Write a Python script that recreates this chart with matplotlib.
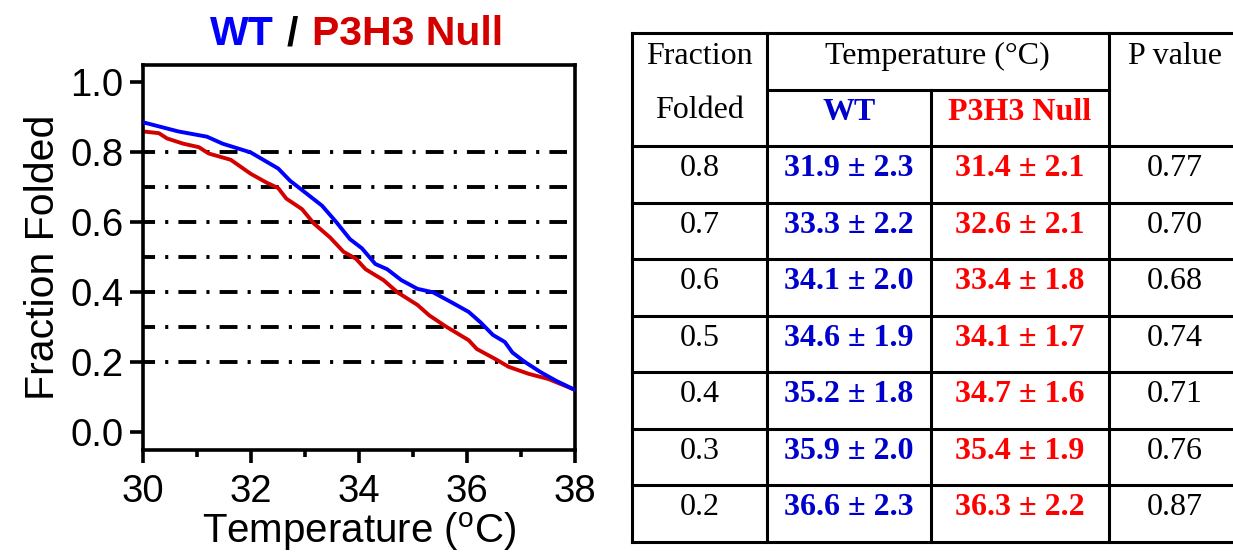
import matplotlib
matplotlib.use("Agg")
import matplotlib.pyplot as plt

plt.rcParams['font.family'] = ['Liberation Sans', 'DejaVu Sans']
plt.rcParams['mathtext.fontset'] = 'custom'
plt.rcParams['mathtext.rm'] = 'Liberation Sans'

# curve data
wt_temp = [30.0, 30.65, 31.18, 31.47, 31.99, 32.5, 32.72, 33.02, 33.31, 33.57, 33.83,
           34.05, 34.3, 34.52, 34.78, 35.08, 35.37, 35.74, 36.03, 36.25, 36.48, 36.7,
           36.84, 37.06, 37.36, 37.65, 38.0]
wt_frac = [0.886, 0.86, 0.845, 0.825, 0.8, 0.754, 0.719, 0.683, 0.648, 0.602, 0.552,
           0.526, 0.481, 0.466, 0.435, 0.41, 0.40, 0.369, 0.344, 0.314, 0.278, 0.258,
           0.228, 0.202, 0.172, 0.147, 0.121]
null_temp = [30.0, 30.29, 30.44, 30.74, 31.03, 31.21, 31.62, 31.99, 32.28, 32.5, 32.65,
             32.94, 33.16, 33.46, 33.71, 33.94, 34.12, 34.45, 34.71, 35.08, 35.3, 35.59,
             36.03, 36.18, 36.55, 36.77, 37.14, 37.51, 38.0]
null_frac = [0.86, 0.855, 0.84, 0.825, 0.815, 0.797, 0.779, 0.739, 0.714, 0.698, 0.668,
             0.638, 0.597, 0.557, 0.516, 0.496, 0.466, 0.435, 0.40, 0.364, 0.334, 0.304,
             0.263, 0.238, 0.207, 0.187, 0.167, 0.152, 0.121]
ref_levels = [0.8, 0.7, 0.6, 0.5, 0.4, 0.3, 0.2]

# table data
frac_labels = ['0.8', '0.7', '0.6', '0.5', '0.4', '0.3', '0.2']
wt_vals = ['31.9 ± 2.3', '33.3 ± 2.2', '34.1 ± 2.0', '34.6 ± 1.9', '35.2 ± 1.8', '35.9 ± 2.0', '36.6 ± 2.3']
null_vals = ['31.4 ± 2.1', '32.6 ± 2.1', '33.4 ± 1.8', '34.1 ± 1.7', '34.7 ± 1.6', '35.4 ± 1.9', '36.3 ± 2.2']
p_vals = ['0.77', '0.70', '0.68', '0.74', '0.71', '0.76', '0.87']

BLUE = '#0000FF'
RED = '#D40000'
TBLUE = '#0000CC'
TRED = '#FF0000'

W, H = 1233, 552
fig = plt.figure(figsize=(W / 100, H / 100), dpi=100)

# ---- left chart
ax = fig.add_axes([143.3 / W, 1 - 449.7 / H, (575 - 143.3) / W, (449.7 - 65) / H])
for lv in ref_levels:
    ax.plot([30, 37.85], [lv, lv], color='black', lw=2.8, ls=(1.5, (4.6, 2.6, 0.8, 2.6)), zorder=1)
ax.plot(null_temp, null_frac, color=RED, lw=2.8, zorder=2)
ax.plot(wt_temp, wt_frac, color=BLUE, lw=2.8, zorder=3)
ax.set_xlim(30, 38)
ax.set_ylim(-0.05, 1.05)
ax.set_xticks([30, 32, 34, 36, 38])
ax.set_xticks([31, 33, 35, 37], minor=True)
ax.set_yticks([0.0, 0.2, 0.4, 0.6, 0.8, 1.0])
ax.set_yticklabels(['0.0', '0.2', '0.4', '0.6', '0.8', '1.0'])
for s in ax.spines.values():
    s.set_linewidth(2.6)
ax.tick_params(which='major', length=9.5, width=2.6, labelsize=27.5, pad=5)
ax.tick_params(which='minor', length=5, width=2.6)
ax.tick_params(axis='x', pad=8)
ax.set_xlabel('Temperature ($^{\\rm o}$C)', fontsize=29, labelpad=0)
ax.set_ylabel('Fraction Folded', fontsize=29.5, labelpad=6)

# title in two colours
ty = 1 - 45 / H
fig.text(210 / W, ty, 'WT', color=BLUE, fontsize=29.5, fontweight='bold', va='baseline')
fig.text(287 / W, ty, '/', color='black', fontsize=29.5, fontweight='bold', va='baseline')
fig.text(312 / W, ty, 'P3H3 Null', color=RED, fontsize=29.5, fontweight='bold', va='baseline')

# ---- table
tx = fig.add_axes([0, 0, 1, 1])
tx.set_xlim(0, W)
tx.set_ylim(H, 0)
tx.axis('off')

cols = [632, 766.6, 930.8, 1108.7, 1241]
top = 33.3
row_h = 56.5
n = len(frac_labels)
hdr_mid = top + row_h
hdr_bot = top + 2 * row_h
bottom = hdr_bot + n * row_h
lw_t = 2.2
kw = dict(color='black', lw=lw_t, solid_capstyle='projecting')

tx.plot([cols[0], cols[-1]], [top, top], **kw)
tx.plot([cols[1], cols[3]], [hdr_mid, hdr_mid], **kw)
for i in range(n + 1):
    y = hdr_bot + i * row_h
    tx.plot([cols[0], cols[-1]], [y, y], **kw)
for c in [cols[0], cols[1], cols[3], cols[4]]:
    tx.plot([c, c], [top, bottom], **kw)
tx.plot([cols[2], cols[2]], [hdr_mid, bottom], **kw)

serif = ['Liberation Serif', 'DejaVu Serif']
fs = 23
cx = [(cols[i] + cols[i + 1]) / 2 for i in range(4)]
tx.text(cx[0], top + 31, 'Fraction', ha='center', va='baseline', fontsize=fs, family=serif)
tx.text(cx[0], top + 85, 'Folded', ha='center', va='baseline', fontsize=fs, family=serif)
tx.text((cols[1] + cols[3]) / 2, top + 31, 'Temperature (°C)', ha='center', va='baseline',
        fontsize=fs, family=serif)
tx.text(cx[3], top + 31, 'P value', ha='center', va='baseline', fontsize=fs, family=serif)
tx.text(cx[1], top + 87, 'WT', ha='center', va='baseline', fontsize=fs, family=serif,
        fontweight='bold', color=TBLUE)
tx.text(cx[2], top + 87, 'P3H3 Null', ha='center', va='baseline', fontsize=fs, family=serif,
        fontweight='bold', color=TRED)

for i in range(n):
    yb = hdr_bot + i * row_h + 30
    tx.text(cx[0], yb, frac_labels[i], ha='center', va='baseline', fontsize=fs, family=serif)
    tx.text(cx[1], yb, wt_vals[i], ha='center', va='baseline', fontsize=fs, family=serif,
            fontweight='bold', color=TBLUE)
    tx.text(cx[2], yb, null_vals[i], ha='center', va='baseline', fontsize=fs, family=serif,
            fontweight='bold', color=TRED)
    tx.text(cx[3], yb, p_vals[i], ha='center', va='baseline', fontsize=fs, family=serif)

fig.savefig('out.png', dpi=100)
